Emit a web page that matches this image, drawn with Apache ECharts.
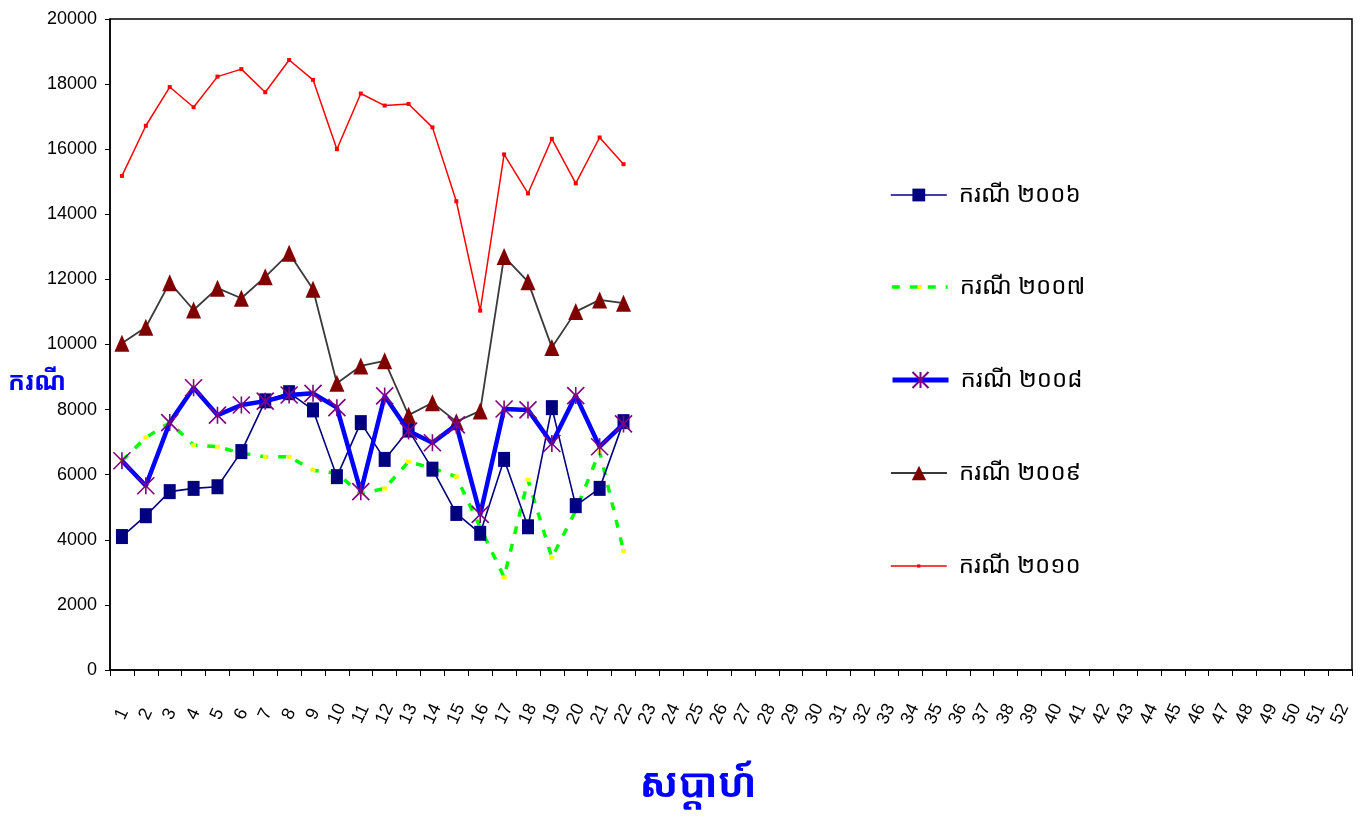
<!DOCTYPE html>
<html>
<head>
<meta charset="utf-8">
<script src="https://cdn.jsdelivr.net/npm/echarts@6/dist/echarts.min.js"></script>
<style>
  html, body { margin: 0; padding: 0; background: #fff; }
  #chart { width: 1365px; height: 818px; }
</style>
</head>
<body>
<div id="chart"></div>
<script>
// Week numbers along the x axis
const weeks = ['1','2','3','4','5','6','7','8','9','10','11','12','13','14','15','16','17','18','19','20',
  '21','22','23','24','25','26','27','28','29','30','31','32','33','34','35','36','37','38','39','40',
  '41','42','43','44','45','46','47','48','49','50','51','52'];

// Weekly case counts per year (weeks 1-22)
const cases2006 = [4100,4740,5480,5580,5630,6710,8270,8520,7990,5940,7600,6470,7370,6170,4810,4200,6470,4400,8060,5050,5580,7630];
const cases2007 = [6430,7140,7600,6910,6860,6660,6550,6550,6140,6040,5410,5580,6400,6200,5940,4380,2850,5840,3450,4900,6710,3660];
const cases2008 = [6430,5660,7600,8670,7830,8140,8260,8450,8500,8060,5480,8420,7340,6980,7530,4780,8020,7990,6960,8430,6860,7560];
const cases2009 = [10040,10530,11900,11060,11730,11420,12080,12800,11700,8810,9340,9500,7830,8210,7630,7960,12700,11930,9910,11010,11370,11270];
const cases2010 = [15180,16720,17910,17290,18230,18460,17750,18740,18130,16000,17710,17340,17390,16670,14400,11040,15840,14640,16320,14950,16360,15540];

const seriesNames = ['ករណី ២០០៦', 'ករណី ២០០៧', 'ករណី ២០០៨', 'ករណី ២០០៩', 'ករណី ២០១០'];
const yTitle = 'ករណី';
const xTitle = 'សប្តាហ៍';

// Asterisk marker: an X crossed by a vertical stroke
const asterisk = 'path://M0 0 L16 16 M16 0 L0 16 M8 0 L8 16';

const khmerFont = '"Khmer OS", "Khmer OS System", "Noto Sans Khmer", "Noto Sans", sans-serif';
const latinFont = '"Liberation Sans", Arial, sans-serif';
const legendFontSize = 24;

// One legend block per series so every key keeps its own marker size
const legendRows = [
  { name: seriesNames[0], center: 195, h: 16, lw: 1.6 },
  { name: seriesNames[1], center: 287, h: 5, lw: 3.5 },
  { name: seriesNames[2], center: 380, h: 20, lw: 5 },
  { name: seriesNames[3], center: 473, h: 18, lw: 2 },
  { name: seriesNames[4], center: 566, h: 4, lw: 1.5 }
];

const legends = legendRows.map(r => ({
  orient: 'vertical',
  left: 890,
  top: r.center - Math.max(r.h, legendFontSize) / 2,
  padding: 0,
  itemWidth: 56,
  itemHeight: r.h,
  selectedMode: false,
  lineStyle: { width: r.lw },
  textStyle: { fontFamily: khmerFont, fontSize: legendFontSize, color: '#000', padding: [0, 0, 0, 7] },
  data: [r.name]
}));

const chart = echarts.init(document.getElementById('chart'), null, { renderer: 'canvas' });

chart.setOption({
  animation: false,
  backgroundColor: '#ffffff',
  grid: {
    left: 110, right: 13, top: 19, bottom: 148,
    containLabel: false, outerBoundsMode: 'none',
    show: true, borderColor: '#000', borderWidth: 1.5, backgroundColor: 'transparent'
  },
  legend: legends,
  graphic: [{
    type: 'text',
    left: 8,
    top: 370,
    style: {
      text: yTitle,
      fontFamily: khmerFont, fontSize: 25, fontWeight: 'bold',
      fill: '#0000ff', verticalAlign: 'middle'
    }
  }],
  xAxis: {
    type: 'category',
    data: weeks,
    boundaryGap: true,
    name: xTitle,
    nameLocation: 'middle',
    nameGap: 96,
    nameTextStyle: { fontFamily: khmerFont, fontSize: 40, fontWeight: 'bold', color: '#0000ff', padding: [0, 66, 0, 0] },
    axisLine: { lineStyle: { color: '#000', width: 1.5 } },
    axisTick: { show: true, alignWithLabel: false, interval: 0, length: 6, lineStyle: { color: '#000' } },
    axisLabel: {
      interval: 0, rotate: 65, margin: 44,
      align: 'center', verticalAlign: 'middle',
      fontFamily: latinFont, fontSize: 18, color: '#000'
    },
    splitLine: { show: false }
  },
  yAxis: {
    type: 'value',
    min: 0, max: 20000, interval: 2000,
    axisLine: { show: true, lineStyle: { color: '#000', width: 1.5 } },
    axisTick: { show: true, length: 5, lineStyle: { color: '#000' } },
    axisLabel: { fontFamily: latinFont, fontSize: 18, color: '#000', margin: 13, formatter: v => String(v) },
    splitLine: { show: false }
  },
  series: [
    {
      name: seriesNames[0], type: 'line', data: cases2006,
      symbol: 'rect', symbolSize: [12, 15],
      lineStyle: { color: '#000080', width: 1.6 },
      itemStyle: { color: '#000080' },
      z: 3
    },
    {
      name: seriesNames[1], type: 'line', data: cases2007,
      symbol: 'rect', symbolSize: [5, 4],
      lineStyle: { color: '#00ff00', width: 3.5, type: [8, 10] },
      itemStyle: { color: '#ffff00' },
      z: 2
    },
    {
      name: seriesNames[2], type: 'line', data: cases2008,
      symbol: asterisk, symbolSize: [17, 17],
      lineStyle: { color: '#0000ff', width: 4.5 },
      itemStyle: { color: 'rgba(0,0,0,0)', borderColor: '#800080', borderWidth: 1.6 },
      z: 4
    },
    {
      name: seriesNames[3], type: 'line', data: cases2009,
      symbol: 'triangle', symbolSize: [15, 17],
      lineStyle: { color: '#3a3a3a', width: 1.8 },
      itemStyle: { color: '#800000' },
      z: 3
    },
    {
      name: seriesNames[4], type: 'line', data: cases2010,
      symbol: 'rect', symbolSize: [4, 4],
      lineStyle: { color: '#ff0000', width: 1.5 },
      itemStyle: { color: '#ff0000' },
      z: 3
    }
  ]
});
</script>
</body>
</html>
